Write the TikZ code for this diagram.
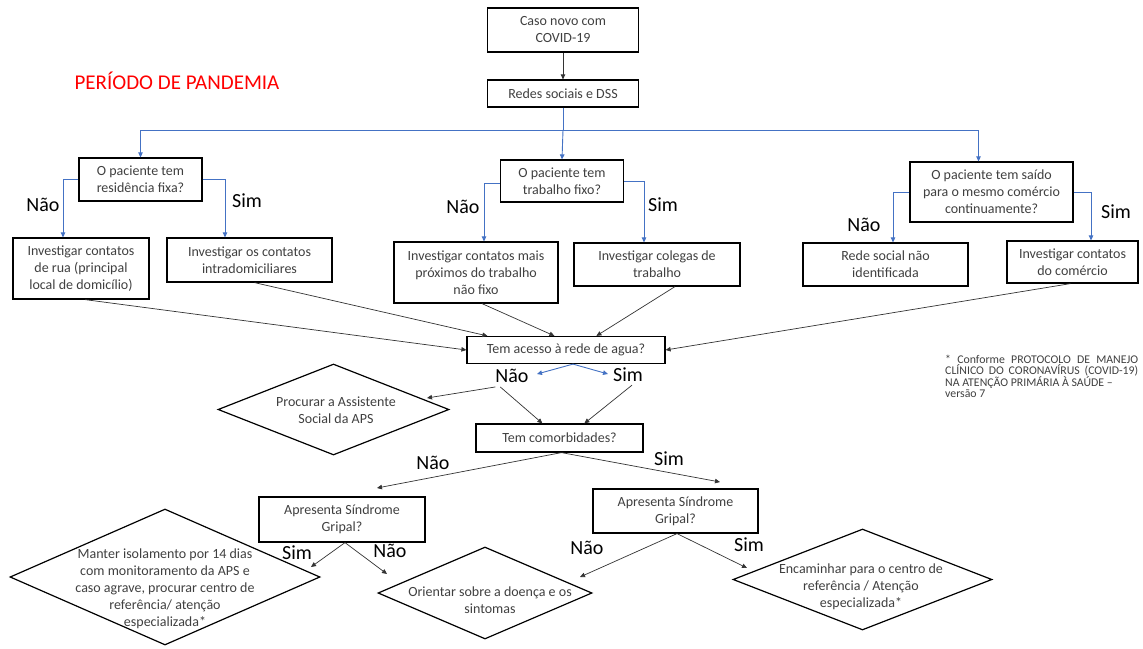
\documentclass[tikz,border=0pt]{standalone}
\usepackage{fontspec}
\setmainfont{Carlito}
\usetikzlibrary{shapes.geometric,arrows.meta}
\definecolor{lineblue}{HTML}{4472C4}
\definecolor{txtgray}{HTML}{404040}
\definecolor{titlered}{HTML}{FF0000}
\begin{document}
\begin{tikzpicture}[x=1pt,y=-1pt,
  box/.style={draw=black, line width=1.2pt, rectangle, align=center, text=txtgray, font=\fontsize{14}{17}\selectfont, inner sep=1pt},
  dia/.style={draw=black, line width=1.2pt, diamond, inner sep=0pt},
  dtext/.style={align=center, text=txtgray, font=\fontsize{14}{17}\selectfont, inner sep=0pt},
  lab/.style={font=\fontsize{20}{24}\selectfont, text=black, inner sep=0pt},
  blk/.style={draw=black!80, line width=0.7pt, -{Triangle[length=5pt,width=4.5pt]}},
  blu/.style={draw=lineblue, line width=0.9pt, -{Triangle[length=5pt,width=4.5pt]}},
  bluline/.style={draw=lineblue, line width=0.9pt},
]
\useasboundingbox[fill=white] (0,0) rectangle (1143,648);

% title
\node[font=\fontsize{21}{25}\selectfont, text=titlered, inner sep=0pt] (title) at (177,81) {PERÍODO DE PANDEMIA};

% boxes
\node[box, minimum width=151pt, minimum height=44pt] (b1) at (563,30) {Caso novo com\\COVID-19};
\node[box, minimum width=151pt, minimum height=27pt] (b2) at (563,93.5) {Redes sociais e DSS};
\node[box, minimum width=123pt, minimum height=43pt] (b3) at (140.5,179.5) {O paciente tem\\residência fixa?};
\node[box, minimum width=136pt, minimum height=61pt] (b4) at (81,268.5) {Investigar contatos\\de rua (principal\\local de domicílio)};
\node[box, minimum width=165pt, minimum height=44pt] (b5) at (249.5,260) {Investigar os contatos\\intradomiciliares};
\node[box, minimum width=123pt, minimum height=42pt] (b6) at (562,181) {O paciente tem\\trabalho fixo?};
\node[box, minimum width=164pt, minimum height=61pt] (b7) at (476,272.5) {Investigar contatos mais\\próximos do trabalho\\não fixo};
\node[box, minimum width=166pt, minimum height=43pt] (b8) at (657,264.5) {Investigar colegas de\\trabalho};
\node[box, minimum width=163pt, minimum height=60pt] (b9) at (991.5,192) {O paciente tem saído\\para o mesmo comércio\\continuamente?};
\node[box, minimum width=165pt, minimum height=43pt] (b10) at (885.5,264.5) {Rede social não\\identificada};
\node[box, minimum width=131pt, minimum height=42pt] (b11) at (1072.5,262) {Investigar contatos\\do comércio};
\node[box, minimum width=198pt, minimum height=27pt] (b12) at (566,350) {Tem acesso à rede de agua?};
\node[box, minimum width=167pt, minimum height=28pt] (b13) at (559.5,438) {Tem comorbidades?};
\node[box, minimum width=166pt, minimum height=45pt] (b14) at (342,519.5) {Apresenta Síndrome\\Gripal?};
\node[box, minimum width=165pt, minimum height=44pt] (b15) at (675.5,511) {Apresenta Síndrome\\Gripal?};

% diamonds
\node[dia, minimum width=231pt, minimum height=91pt] (d1) at (333.5,409.5) {};
\node[dtext] (t1) at (336,410) {Procurar a Assistente\\Social da APS};
\node[dia, minimum width=310pt, minimum height=136pt] (d16) at (165,577) {};
\node[dtext] (t16) at (165,589) {Manter isolamento por 14 dias\\com monitoramento da APS e\\caso agrave, procurar centro de\\referência/ atenção\\especializada*};
\node[dia, minimum width=214pt, minimum height=92pt] (d17) at (485,593) {};
\node[dtext] (t17) at (490,600) {Orientar sobre a doença e os\\sintomas};
\node[dia, minimum width=259pt, minimum height=101pt] (d18) at (862.5,579.5) {};
\node[dtext] (t18) at (861,587) {Encaminhar para o centro de\\referência / Atenção\\especializada*};

% labels
\node[lab] (L1) at (43,205) {Não};
\node[lab] (L2) at (247,201) {Sim};
\node[lab] (L3) at (463,207) {Não};
\node[lab] (L4) at (663,205) {Sim};
\node[lab] (L5) at (864,225) {Não};
\node[lab] (L6) at (1116,212) {Sim};
\node[lab] (L7) at (512,376) {Não};
\node[lab] (L8) at (628,375) {Sim};
\node[lab] (L9) at (433,463) {Não};
\node[lab] (L10) at (669,459) {Sim};
\node[lab] (L11) at (297,553) {Sim};
\node[lab] (L12) at (390,551) {Não};
\node[lab] (L13) at (587,548) {Não};
\node[lab] (L14) at (749,545) {Sim};

% footnote
\node[anchor=north west, inner sep=0pt, text width=193pt, align=justify, text=txtgray,
      font=\fontsize{11.8}{10.6}\selectfont] (foot) at (945,355)
  {* Conforme PROTOCOLO DE MANEJO\linebreak CLÍNICO DO CORONAVÍRUS (COVID-19)\linebreak NA ATENÇÃO PRIMÁRIA À SAÚDE –\\ versão 7};

% free ends
\coordinate (hub) at (563,130);
\coordinate (e1) at (537,374);
\coordinate (e2) at (608,374);
\coordinate (e3) at (427,398);
\coordinate (e14) at (377,488);
\coordinate (e15) at (720,482);
\coordinate (e16) at (311,567);
\coordinate (e17a) at (387,574);
\coordinate (e17b) at (580,577);
\coordinate (e18) at (747,568);

% connectors
\draw[blk] (b1) -- (b2);
\draw[bluline] (b2.south) -- (hub);
\draw[blu] (hub) -| (b3.north);
\draw[blu] (hub) -- (b6.north);
\draw[blu] (hub) -| ([xshift=-13pt]b9.north);

\draw[blu] (b3.west) -| ([xshift=-18pt]b4.north);
\draw[blu] (b3.east) -| ([xshift=-24.5pt]b5.north);
\draw[blu] ([yshift=-2pt]b6.west) -| ([xshift=8pt]b7.north);
\draw[blu] (b6.east) -| ([xshift=-13pt]b8.north);
\draw[blu] (b9.west) -| ([xshift=7.5pt]b10.north);
\draw[blu] (b9.east) -| ([xshift=18.5pt]b11.north);

\draw[blk] ([xshift=4pt]b4.south) -- (b12.west);
\draw[blk] ([xshift=5pt]b5.south) -- ([xshift=21pt]b12.north west);
\draw[blk] ([xshift=6pt]b7.south) -- ([xshift=88pt]b12.north west);
\draw[blk] ([xshift=18pt]b8.south) -- ([xshift=130pt]b12.north west);
\draw[blk] ([xshift=-2pt]b11.south) -- (b12.east);

\draw[blu] ([xshift=7pt]b12.south) -- (e1);
\draw[blu] ([xshift=7pt]b12.south) -- (e2);

\draw[blk] ([yshift=-4pt]L7.south west) -- (e3);
\draw[blk] ([shift={(5pt,-4pt)}]L7.south west) -- ([xshift=67pt]b13.north west);
\draw[blk] ([shift={(4pt,-3pt)}]L8.south) -- ([xshift=109pt]b13.north west);

\draw[blk] ([xshift=2pt]b13.south) -- (e14);
\draw[blk] ([xshift=2pt]b13.south) -- (e15);
\draw[blk] ([xshift=3pt]b14.south) -- (e16);
\draw[blk] ([xshift=3pt]b14.south) -- (e17a);
\draw[blk] ([xshift=1.5pt]b15.south) -- (e17b);
\draw[blk] ([xshift=1.5pt]b15.south) -- (e18);
\end{tikzpicture}
\end{document}
